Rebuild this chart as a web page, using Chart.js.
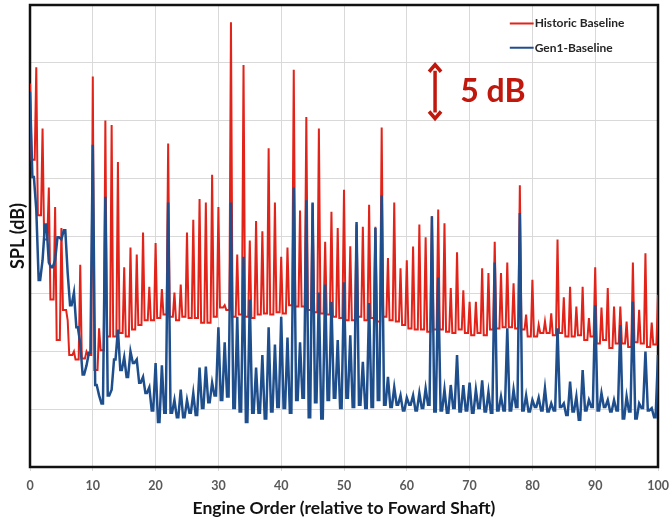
<!DOCTYPE html>
<html><head><meta charset="utf-8">
<script src="https://cdn.jsdelivr.net/npm/chart.js@4.4.1/dist/chart.umd.min.js"></script>
<style>html,body{margin:0;padding:0;background:#fff;}#wrap{width:669px;height:520px;position:relative;}</style>
</head><body><div id="wrap"><canvas id="c" width="669" height="520"></canvas></div>
<script>
// Engine order sample grid (0 .. 100 in steps of 0.5)
const orders = Array.from({length: 201}, (_, i) => i / 2);
const xTickValues = [0, 10, 20, 30, 40, 50, 60, 70, 80, 90, 100];
const seriesNames = ['Historic Baseline', 'Gen1-Baseline'];
const xTitle = 'Engine Order (relative to Foward Shaft)';
const yTitle = 'SPL (dB)';

// SPL (dB, relative), one value per order step of 0.5
// (whole orders = tonal peaks, half orders = level between peaks)
const historic = [
33.2,26.6,34.6,21.8,29.3,19.7,24.2,14.5,22.5,11.0,
20.7,13.6,12.7,9.7,10.0,9.3,17.5,9.4,10.0,9.7,
33.8,8.4,12.0,10.1,30.0,11.3,29.6,11.3,26.4,11.6,
17.3,11.3,19.0,11.9,18.4,12.3,20.3,12.7,15.6,12.7,
19.4,12.9,15.4,13.2,28.0,13.0,15.1,12.7,15.8,13.0,
20.3,12.9,21.4,12.9,23.2,12.5,22.9,12.5,25.3,13.0,
22.5,13.8,14.0,13.6,38.5,13.0,18.4,13.2,34.8,13.0,
19.6,12.9,21.3,13.2,20.4,13.3,27.6,13.2,22.9,13.4,
18.2,13.3,19.0,14.0,34.4,13.9,22.2,13.9,30.3,13.6,
22.8,13.4,29.3,13.3,19.5,13.2,22.1,13.0,20.7,12.9,
24.0,12.7,19.1,12.7,21.0,13.0,20.8,12.7,22.7,12.9,
20.8,12.6,29.4,13.0,18.1,12.7,22.9,12.6,17.2,12.3,
17.9,12.0,19.1,11.9,21.0,11.9,19.9,11.7,21.7,11.9,
22.3,11.9,21.1,11.7,15.5,11.6,18.6,11.9,15.3,11.6,
14.3,11.4,14.3,11.6,17.2,11.4,16.8,11.9,19.5,12.0,
16.8,12.1,17.7,12.1,15.9,12.0,24.4,11.9,13.2,11.3,
16.2,11.3,12.3,11.6,12.6,11.6,13.3,11.4,19.7,11.6,
14.7,11.3,15.6,11.3,13.9,11.4,15.6,11.0,12.9,11.3,
17.3,10.7,13.8,11.0,15.5,10.3,13.9,10.7,13.9,10.7,
12.6,10.4,17.7,10.8,13.6,10.7,18.5,10.4,12.5,10.6,
14.9
];
const gen1 = [
32.5,25.1,22.3,16.2,17.9,21.0,17.7,17.3,17.9,19.9,
19.7,20.5,16.8,14.0,15.1,12.1,10.7,8.0,8.8,9.9,
27.9,7.1,6.2,5.5,23.4,6.2,6.7,9.3,11.9,8.4,
9.5,7.8,10.0,9.0,9.3,7.3,7.8,6.4,6.9,4.9,
9.0,3.9,8.8,4.7,22.9,4.7,5.8,4.3,6.7,4.3,
5.8,4.7,6.4,4.5,8.6,5.1,8.7,5.6,7.3,6.2,
12.1,5.8,10.8,6.1,22.9,5.1,13.0,4.8,18.2,3.9,
14.5,4.7,8.6,4.7,9.7,4.2,12.1,4.8,10.6,5.2,
13.0,5.1,11.2,4.7,24.2,5.8,10.8,6.0,23.1,4.3,
22.9,5.6,15.1,4.2,15.8,5.8,14.3,6.0,11.0,5.1,
16.0,6.0,11.4,5.2,21.2,5.4,9.1,5.1,14.2,5.2,
20.7,5.8,23.5,5.4,7.8,5.2,6.9,5.4,6.2,4.9,
6.0,5.4,6.2,4.9,6.4,5.1,6.8,5.4,21.7,4.8,
16.4,4.9,6.7,4.7,7.1,5.1,9.7,4.8,7.1,4.9,
7.3,4.7,6.7,5.1,7.5,4.8,6.5,4.7,17.7,4.9,
6.1,4.9,12.0,4.9,6.7,5.2,22.0,4.9,6.2,4.8,
5.8,5.2,6.0,4.9,6.8,4.8,5.5,4.9,12.0,5.2,
5.5,4.5,7.4,4.8,6.1,4.1,8.4,4.9,5.8,5.2,
14.0,4.9,6.4,5.2,5.8,4.8,5.8,4.9,12.3,4.2,
6.1,4.8,14.3,4.2,5.5,5.1,10.0,4.9,5.1,4.3,
9.7
];

// "5 dB" scale marker (in data units)
const markerOrder = 64.5, markerFrom = 35, markerTo = 30, markerLabel = '5 dB';
const markerTextOrder = 68.5, markerTextLevel = 32.5;

const RED = '#E2231A', BLUE = '#1F4E8C', MARK = '#C0180C';
const FONT = 'Lato, "Open Sans", sans-serif';

// peaks sit on whole orders; the level between peaks spans a short flat stretch
function toPoints(vals, half) {
  const pts = [];
  orders.forEach((o, i) => {
    if (Number.isInteger(o)) pts.push({x: o, y: vals[i]});
    else { pts.push({x: o - half, y: vals[i]}); pts.push({x: o + half, y: vals[i]}); }
  });
  return pts;
}

const frameAndExtras = {
  id: 'frameAndExtras',
  beforeDatasetsDraw(chart) {
    const {ctx, chartArea: a} = chart;
    ctx.save();
    ctx.strokeStyle = '#111';
    ctx.lineWidth = 2.5;
    ctx.strokeRect(a.left, a.top, a.right - a.left, a.bottom - a.top);
    ctx.restore();
  },
  afterDatasetsDraw(chart) {
    const {ctx, scales: {x, y}} = chart;
    ctx.save();
    // legend (inside, top right)
    const lx = x.getPixelForValue(76.4), lx2 = x.getPixelForValue(80.2);
    const rows = [[seriesNames[0], RED, y.getPixelForValue(38.4)], [seriesNames[1], BLUE, y.getPixelForValue(36.3)]];
    ctx.font = 'bold 12px ' + FONT;
    ctx.textBaseline = 'middle';
    ctx.textAlign = 'left';
    rows.forEach(([t, c, py]) => {
      ctx.strokeStyle = c; ctx.lineWidth = 2;
      ctx.beginPath(); ctx.moveTo(lx, py); ctx.lineTo(lx2, py); ctx.stroke();
      ctx.fillStyle = '#262626';
      ctx.fillText(t, lx2 + 1, py);
    });
    // 5 dB arrow
    const ax = x.getPixelForValue(markerOrder);
    const y1 = y.getPixelForValue(markerFrom), y2 = y.getPixelForValue(markerTo);
    ctx.strokeStyle = MARK; ctx.fillStyle = MARK; ctx.lineWidth = 3.5;
    ctx.beginPath(); ctx.moveTo(ax, y1 + 8); ctx.lineTo(ax, y2 - 8); ctx.stroke();
    ctx.lineJoin = 'miter';
    ctx.beginPath(); ctx.moveTo(ax - 6, y1 + 9); ctx.lineTo(ax, y1 + 2); ctx.lineTo(ax + 6, y1 + 9); ctx.stroke();
    ctx.beginPath(); ctx.moveTo(ax - 6, y2 - 9); ctx.lineTo(ax, y2 - 2); ctx.lineTo(ax + 6, y2 - 9); ctx.stroke();
    ctx.font = 'bold 32px ' + FONT;
    ctx.textBaseline = 'middle';
    ctx.fillText(markerLabel, x.getPixelForValue(markerTextOrder), y.getPixelForValue(markerTextLevel));
    ctx.restore();
  }
};

new Chart(document.getElementById('c'), {
  type: 'line',
  data: {
    datasets: [
      {label: seriesNames[0], data: toPoints(historic, 0.25), borderColor: RED, borderWidth: 2, pointRadius: 0, tension: 0, order: 2},
      {label: seriesNames[1], data: toPoints(gen1, 0.12), borderColor: BLUE, borderWidth: 2.5, pointRadius: 0, tension: 0, order: 1}
    ]
  },
  options: {
    responsive: false, animation: false, devicePixelRatio: 1,
    layout: {padding: {top: 5, right: 0, bottom: 0, left: 0}},
    plugins: {legend: {display: false}, tooltip: {enabled: false}},
    scales: {
      x: {
        type: 'linear', min: 0, max: 100,
        afterBuildTicks: s => { s.ticks = xTickValues.map(v => ({value: v})); },
        afterFit: s => { s.height = 53; s.paddingRight = 11; s.paddingLeft = 0; },
        ticks: {color: '#595959', font: {family: FONT, weight: 'bold', size: 12.5}, padding: 7, maxRotation: 0},
        grid: {color: '#D9D9D9', lineWidth: 1, tickLength: 4},
        border: {display: false},
        title: {display: true, text: xTitle, color: '#111', font: {family: FONT, weight: 'bold', size: 17.5}, padding: {top: 0, bottom: 1}}
      },
      y: {
        min: 0, max: 40,
        afterFit: s => { s.width = 30; },
        ticks: {display: false, stepSize: 5},
        grid: {color: '#D9D9D9', lineWidth: 1, drawTicks: false},
        border: {display: false},
        title: {display: true, text: yTitle, color: '#111', font: {family: FONT, weight: 'bold', size: 18}, padding: {top: 7, bottom: 2}}
      }
    }
  },
  plugins: [frameAndExtras]
});
</script></body></html>
